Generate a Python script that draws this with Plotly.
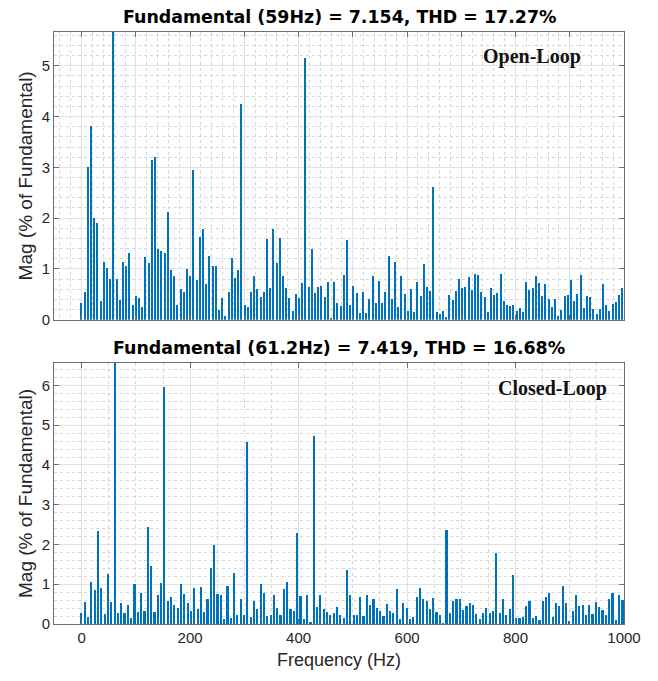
import plotly.graph_objects as go
from plotly.subplots import make_subplots

# FFT harmonic spectra (magnitude in % of fundamental), bin index k -> k * resolution Hz
res_open = 5.9      # Hz per bin, open-loop (fundamental 59 Hz at bin 10)
res_closed = 6.12   # Hz per bin, closed-loop (fundamental 61.2 Hz at bin 10)

mag_open = [
    0.33, 0.54, 3.00, 3.82, 2.00, 1.90, 0.37, 1.13, 1.02, 0.80,
    100.0, 0.80, 0.39, 1.13, 1.05, 1.32, 0.29, 0.47, 0.42, 0.25,
    1.24, 1.12, 3.15, 3.21, 1.39, 1.35, 1.31, 2.12, 0.97, 0.86,
    0.29, 0.61, 0.55, 0.99, 0.86, 2.94, 0.78, 1.63, 1.78, 0.70,
    1.26, 1.05, 1.06, 0.20, 0.43, 0.08, 0.54, 1.21, 0.82, 0.97,
    4.24, 0.28, 0.25, 0.54, 0.86, 0.61, 0.44, 0.54, 1.59, 0.63,
    1.78, 1.12, 1.60, 0.86, 0.62, 0.42, 0.18, 0.51, 0.42, 0.72,
    5.15, 0.64, 1.40, 0.52, 0.65, 0.67, 0.45, 0.75, 0.04, 0.75,
    0.32, 0.27, 0.88, 1.56, 0.28, 0.67, 0.52, 0.14, 0.54, 0.13,
    0.41, 0.86, 0.33, 0.76, 0.33, 0.55, 1.25, 0.40, 1.13, 0.26,
    0.87, 0.50, 0.18, 0.61, 0.15, 0.74, 0.47, 1.09, 0.64, 0.56,
    2.61, 0.16, 0.12, 0.18, 0.05, 0.48, 0.39, 0.56, 0.81, 0.63,
    0.65, 0.84, 0.59, 0.91, 0.88, 0.54, 0.44, 0.16, 0.63, 0.48,
    0.52, 0.90, 0.37, 0.28, 0.27, 0.28, 0.18, 0.24, 0.16, 0.75,
    0.58, 0.62, 0.86, 0.72, 0.46, 0.71, 0.41, 0.26, 0.41, 0.08,
    0.20, 0.46, 0.48, 0.78, 0.37, 0.50, 0.88, 0.24, 0.47, 0.44,
    0.21, 0.11, 0.22, 0.70, 0.28, 0.17, 0.31, 0.34, 0.48, 0.62,
]

mag_closed = [
    0.29, 0.55, 0.18, 1.05, 0.85, 2.33, 0.90, 0.25, 1.26, 0.55,
    100.0, 0.28, 0.53, 0.29, 0.49, 0.16, 1.00, 0.30, 0.79, 0.33,
    2.44, 1.46, 0.30, 0.74, 1.04, 5.97, 0.59, 0.69, 0.49, 0.40,
    1.00, 0.76, 0.54, 0.33, 0.90, 0.39, 0.93, 0.31, 0.63, 1.42,
    1.98, 0.75, 0.73, 0.13, 0.95, 0.16, 1.29, 0.23, 0.62, 0.23,
    4.59, 0.17, 0.59, 0.38, 1.00, 0.78, 0.20, 0.22, 0.73, 0.40,
    0.23, 0.87, 1.05, 0.38, 0.32, 2.29, 0.71, 0.13, 0.74, 0.06,
    4.73, 0.44, 0.74, 0.39, 0.30, 0.22, 0.28, 0.44, 0.23, 0.15,
    1.36, 0.73, 0.23, 0.24, 0.68, 0.21, 0.74, 0.48, 0.62, 0.40,
    0.32, 0.20, 0.51, 0.34, 0.27, 0.89, 0.14, 0.52, 0.41, 0.12,
    0.18, 0.69, 0.91, 0.62, 0.57, 0.39, 0.65, 0.30, 0.24, 0.03,
    2.37, 0.28, 0.59, 0.62, 0.64, 0.35, 0.45, 0.54, 0.49, 0.25,
    0.13, 0.28, 0.41, 0.28, 0.33, 1.80, 0.28, 0.64, 0.22, 0.38,
    1.24, 0.15, 0.15, 0.18, 0.45, 0.58, 0.16, 0.20, 0.09, 0.57,
    0.67, 0.77, 0.18, 0.52, 0.45, 0.96, 0.54, 0.08, 0.32, 0.74,
    0.45, 0.49, 0.24, 0.47, 0.26, 0.55, 0.44, 0.35, 0.23, 0.62,
    0.79, 0.09, 0.72, 0.61,
]

titles = [
    "Fundamental (59Hz) = 7.154, THD = 17.27%",
    "Fundamental (61.2Hz) = 7.419, THD = 16.68%",
]
labels = ["Open-Loop", "Closed-Loop"]

freq_open = [k * res_open for k in range(len(mag_open))]
freq_closed = [k * res_closed for k in range(len(mag_closed))]

BLUE = "#0072BD"
GRID = "#e2e2e2"
MINOR = "#d6d6d6"
FRAME = "#6e6e6e"
TXT = "#262626"
SANS = "Liberation Sans, Arial, sans-serif"

fig = make_subplots(rows=2, cols=1, vertical_spacing=0.0)

fig.add_trace(go.Bar(x=freq_open, y=mag_open, width=res_open * 0.5,
                     marker=dict(color=BLUE, line=dict(width=0)),
                     showlegend=False), row=1, col=1)
fig.add_trace(go.Bar(x=freq_closed, y=mag_closed, width=res_closed * 0.5,
                     marker=dict(color=BLUE, line=dict(width=0)),
                     showlegend=False), row=2, col=1)

# y limits: 10 % headroom above the largest harmonic (fundamental excluded)
ymax_open = 1.1 * max(v for i, v in enumerate(mag_open) if i != 10)
ymax_closed = 1.1 * max(v for i, v in enumerate(mag_closed) if i != 10)

common_axis = dict(
    showline=True, linecolor=FRAME, linewidth=1, mirror="ticks",
    ticks="inside", ticklen=5, tickcolor=FRAME,
    showgrid=True, gridcolor=GRID, gridwidth=1,
    zeroline=False,
    tickfont=dict(family=SANS, size=15, color=TXT),
)

fig.update_xaxes(common_axis)
fig.update_yaxes(common_axis)

fig.update_xaxes(row=1, col=1, range=[-51, 1000], dtick=100, tick0=0,
                 showticklabels=False,
                 minor=dict(dtick=20, tick0=0, showgrid=True, gridcolor=MINOR,
                            griddash="dot", gridwidth=1),
                 domain=[0, 1])
fig.update_xaxes(row=2, col=1, range=[-51, 1000], dtick=200, tick0=0,
                 minor=dict(dtick=50, tick0=0, showgrid=True, gridcolor=MINOR,
                            griddash="dot", gridwidth=1),
                 title=dict(text="Frequency (Hz)", standoff=8,
                            font=dict(family=SANS, size=18, color=TXT)),
                 domain=[0, 1])

ylab = dict(text="Mag (% of Fundamental)", standoff=3,
            font=dict(family=SANS, size=19, color=TXT))
fig.update_yaxes(row=1, col=1, range=[0, ymax_open], dtick=1,
                 minor=dict(dtick=0.2, showgrid=True, gridcolor=MINOR,
                            griddash="dot", gridwidth=1),
                 title=ylab, domain=[0.514, 1.0])
fig.update_yaxes(row=2, col=1, range=[0, ymax_closed], dtick=1,
                 minor=dict(dtick=0.2, showgrid=True, gridcolor=MINOR,
                            griddash="dot", gridwidth=1),
                 title=ylab, domain=[0.0, 0.441])

title_font = dict(family="DejaVu Sans, Verdana, sans-serif", size=17.4, color="#000")
label_font = dict(family="Liberation Serif, Times New Roman, serif", size=20, color="#111")
annotations = [
    dict(text="<b>%s</b>" % titles[0], xref="paper", yref="paper",
         x=0.5, y=1.0, yshift=3, xanchor="center", yanchor="bottom", showarrow=False,
         font=title_font),
    dict(text="<b>%s</b>" % titles[1], xref="paper", yref="paper",
         x=0.5, y=0.441, yshift=3, xanchor="center", yanchor="bottom", showarrow=False,
         font=title_font),
    dict(text="<b>%s</b>" % labels[0], xref="x", yref="paper",
         x=830, y=0.958, xanchor="center", yanchor="middle", showarrow=False,
         font=label_font),
    dict(text="<b>%s</b>" % labels[1], xref="x2", yref="paper",
         x=868, y=0.398, xanchor="center", yanchor="middle", showarrow=False,
         font=label_font),
]
fig.update_layout(
    annotations=annotations,
    width=658, height=681,
    margin=dict(l=54, r=34, t=32, b=57),
    paper_bgcolor="white", plot_bgcolor="white",
    bargap=0, barmode="overlay",
)

fig.write_html("out.html")
